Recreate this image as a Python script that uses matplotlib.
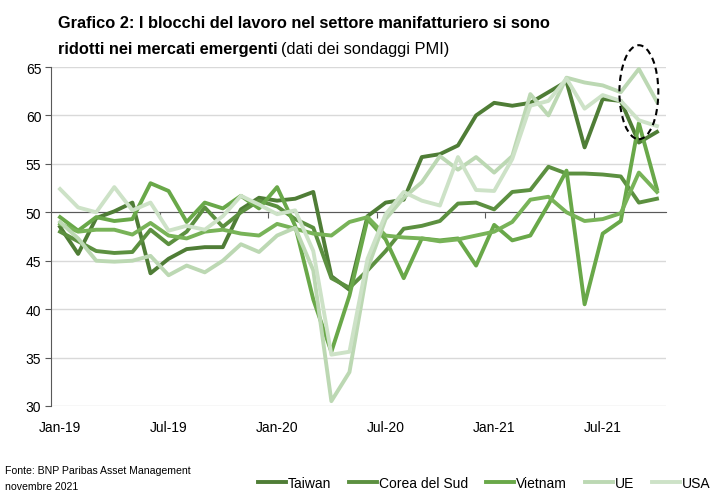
import matplotlib
matplotlib.use("Agg")
import matplotlib.pyplot as plt
from matplotlib.patches import Ellipse

plt.rcParams['font.family'] = ['Liberation Sans', 'DejaVu Sans']

# mesi: Jan-19 ... Oct-21 (34 valori)
tick_pos = [0, 6, 12, 18, 24, 30]
tick_lab = ['Jan-19', 'Jul-19', 'Jan-20', 'Jul-20', 'Jan-21', 'Jul-21']

taiwan = [48.5, 45.7, 49.4, 50.1, 51.0, 43.7, 45.2, 46.2, 46.4, 46.4, 50.3, 51.5,
          51.2, 51.4, 52.1, 43.4, 42.0, 49.6, 51.0, 51.3, 55.7, 56.0, 56.9, 60.0,
          61.3, 61.0, 61.3, 62.4, 63.5, 56.7, 61.7, 61.5, 57.2, 58.3]
corea = [48.0, 47.0, 46.0, 45.8, 45.9, 48.2, 46.7, 48.0, 50.5, 48.5, 50.0, 51.2,
         50.6, 49.3, 48.4, 43.2, 42.2, 44.0, 46.0, 48.3, 48.6, 49.1, 50.9, 51.0,
         50.3, 52.1, 52.3, 54.7, 54.0, 54.0, 53.9, 53.7, 51.0, 51.4]
vietnam = [49.5, 48.1, 49.5, 49.1, 49.3, 53.0, 52.2, 49.0, 51.0, 50.4, 51.7, 50.4,
           52.6, 48.6, 41.0, 35.6, 41.4, 49.3, 47.2, 43.2, 47.3, 47.1, 47.3, 44.5,
           48.7, 47.1, 47.6, 50.8, 54.3, 40.5, 47.8, 49.1, 59.2, 52.4]
altro = [48.8, 48.0, 48.2, 48.2, 47.7, 48.9, 47.6, 47.3, 48.0, 48.2, 47.8, 47.6,
         48.8, 48.3, 47.8, 47.6, 49.0, 49.5, 47.6, 47.4, 47.3, 47.0, 47.2, 47.6,
         48.0, 49.0, 51.3, 51.6, 50.0, 49.1, 49.3, 49.9, 54.1, 52.1]
ue = [49.0, 47.3, 45.0, 44.9, 45.0, 45.5, 43.5, 44.5, 43.8, 45.0, 46.7, 45.9,
      47.6, 48.4, 44.0, 30.5, 33.5, 44.2, 49.3, 51.5, 53.1, 55.8, 54.4, 55.7,
      54.1, 55.8, 62.2, 60.0, 63.9, 63.4, 63.1, 62.4, 64.8, 61.4]
usa = [52.4, 50.5, 50.0, 52.6, 50.2, 51.0, 48.1, 48.6, 48.2, 49.6, 51.7, 50.8,
       49.8, 50.2, 46.0, 35.3, 35.6, 45.2, 49.8, 52.1, 51.2, 50.7, 55.7, 52.3,
       52.2, 55.5, 61.0, 61.5, 63.8, 60.7, 62.1, 61.5, 59.5, 58.9]

serie = [
    ('Taiwan', taiwan, '#4f7d36'),
    ('Corea del Sud', corea, '#5c9040'),
    ('Vietnam', vietnam, '#69a849'),
    ('_altro', altro, '#78b358'),
    ('UE', ue, '#bcd8b3'),
    ('USA', usa, '#cde2c7'),
]

fig = plt.figure(figsize=(7.25, 5.02), dpi=100)
ax = fig.add_axes([51/725, 1-407/502, 615/725, 339/502])

x = list(range(len(taiwan)))
for nome, vals, col in serie:
    ax.plot(x, vals, color=col, lw=2.8, label=nome, solid_joinstyle='round')

ax.set_xlim(-0.5, 33.5)
ax.set_ylim(30, 65)
ax.set_yticks(range(30, 66, 5))
ax.yaxis.grid(True, color='#d9d9d9', lw=1)
ax.set_axisbelow(True)

for s in ['top', 'right']:
    ax.spines[s].set_visible(False)
ax.spines['left'].set_color('#595959')
ax.spines['bottom'].set_position(('data', 50))
ax.spines['bottom'].set_color('#595959')
ax.spines['bottom'].set_zorder(1.5)
ax.set_xticks([5.5, 11.5, 17.5, 23.5, 29.5])
ax.set_xticklabels([])
ax.tick_params(axis='x', direction='out', length=4, color='#595959')
ax.tick_params(axis='y', direction='out', length=4, color='#595959', labelsize=10, pad=3)

sec = ax.secondary_xaxis('bottom')
sec.set_xticks(tick_pos)
sec.set_xticklabels(tick_lab)
sec.tick_params(length=0, labelsize=10, pad=10)
sec.spines['bottom'].set_visible(False)

ell = Ellipse((32.0, 62.4), 2.15, 9.7, fill=False, ls=(0, (3, 2)), lw=1.5,
              color='black', clip_on=False, zorder=5)
ax.add_patch(ell)

# titolo
fig.text(58/725, 1-28/502, 'Grafico 2: I blocchi del lavoro nel settore manifatturiero si sono',
         fontsize=11.8, fontweight='bold', va='baseline')
t2 = fig.text(58/725, 1-54/502, 'ridotti nei mercati emergenti',
              fontsize=11.8, fontweight='bold', va='baseline')
r = fig.canvas.get_renderer()
bb = t2.get_window_extent(renderer=r)
fig.text(bb.x1/725 + 3/725, 1-54/502, '(dati dei sondaggi PMI)', fontsize=11.8, va='baseline')

fig.text(5/725, 1-474/502, 'Fonte: BNP Paribas Asset Management', fontsize=7.6, va='baseline')
fig.text(5/725, 1-490/502, 'novembre 2021', fontsize=7.6, va='baseline')

h, l = ax.get_legend_handles_labels()
fig.legend(h, l, loc='center left', bbox_to_anchor=(258/725, 1-484/502), ncol=5,
           frameon=False, fontsize=10, handlelength=2.0, handletextpad=0.15,
           columnspacing=1.3, borderaxespad=0, borderpad=0)

fig.savefig('out.png', dpi=100)
